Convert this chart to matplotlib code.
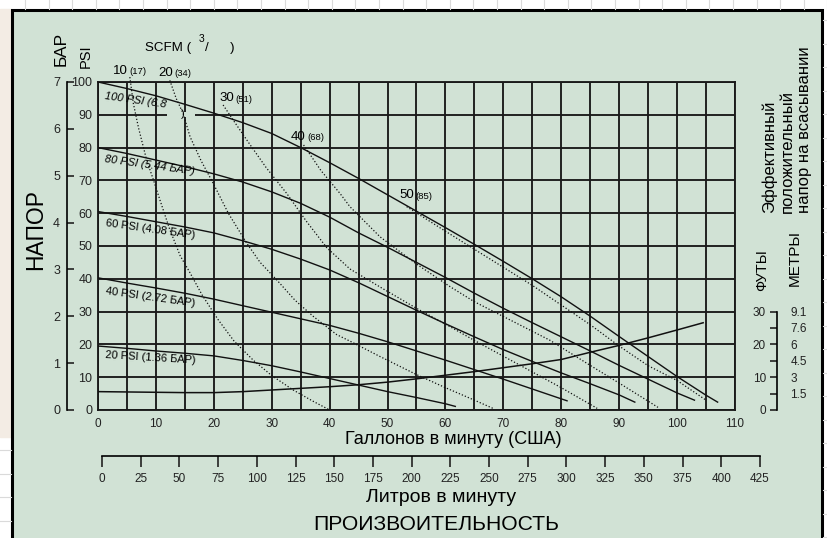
import numpy as np
import matplotlib.pyplot as plt
from matplotlib.patches import Rectangle

plt.rcParams['font.family'] = ['Liberation Sans', 'DejaVu Sans']

W, H = 828, 538

# discharge pressure curves, flow in US gpm vs head in psi
p100_gpm = [0, 5, 10, 15, 20, 25, 30, 35, 40, 45, 50, 55, 60, 65, 70, 75,
            80, 85, 90, 95, 100, 105, 107]
p100_psi = [100, 98, 95.8, 93.2, 90.5, 87.6, 84.3, 80, 75.4, 70.6, 65.6,
            60.6, 55.6, 50.5, 45.3, 40, 34.5, 28.6, 22.4, 16.3, 10.2, 4.5, 2.4]
p80_gpm = [0, 5, 10, 15, 20, 25, 30, 35, 40, 45, 50, 55, 60, 65, 70, 75, 80,
           85, 90, 95, 100, 103]
p80_psi = [80, 78.2, 76.2, 74.2, 72, 69.5, 66.5, 63, 58.8, 54, 49.6, 45,
           40.4, 35.6, 31, 26.6, 22.3, 18, 13.6, 9.4, 5.2, 3]
p60_gpm = [0, 5, 10, 15, 20, 25, 30, 35, 40, 45, 50, 55, 60, 65, 70, 75, 80,
           85, 90, 92.7]
p60_psi = [60.5, 59, 57.4, 55.8, 54, 51.6, 49, 46, 42.7, 38.8, 34.6, 30.4,
           26.3, 22.3, 18.4, 14.8, 11.3, 8, 4.6, 2.4]
p40_gpm = [0, 5, 10, 15, 20, 25, 30, 35, 40, 45, 50, 55, 60, 65, 70, 75, 81]
p40_psi = [40.3, 38.7, 37.2, 35.6, 33.8, 31.8, 29.8, 27.8, 25.8, 23.4, 20.8,
           18, 15.2, 12.3, 9.4, 6.4, 2.8]
p20_gpm = [0, 5, 10, 15, 20, 25, 30, 35, 40, 45, 50, 55, 60, 61.7]
p20_psi = [19.5, 18.8, 18, 17.3, 16.5, 15.1, 13.5, 11.6, 9.6, 7.6, 5.6, 3.8,
           1.9, 1.1]

# air consumption curves (SCFM)
s10_gpm = [5.5, 6.1, 7, 8.4, 9.6, 10.7, 12.4, 14.2, 15.9, 18, 20.8, 23.5,
           26.8, 30, 33.7, 37, 40]
s10_psi = [101.5, 93.5, 86, 76.2, 70, 64, 55, 47, 41.8, 35, 27.4, 21, 15.2,
           10.5, 6.1, 2.8, 0]
s20_gpm = [12.4, 13.5, 14.7, 15.9, 17.8, 19.9, 22.5, 25.7, 28, 30.9, 34,
           37.2, 41.2, 43.5, 48.7, 55, 60, 65, 68.2]
s20_psi = [100.5, 95, 90.4, 83.3, 76, 69.1, 60, 50.8, 45, 39.6, 33.5, 28.5,
           23, 21, 16.3, 10.8, 6.8, 3, 0.5]
s30_gpm = [21.6, 23.5, 25.7, 29, 32.6, 36, 39.5, 43.5, 48.7, 55, 60.8, 65,
           70, 75, 80, 86.2]
s30_psi = [93, 88, 82.3, 74, 66, 57.5, 49.5, 43, 37.5, 31, 25.4, 21.2, 16.4,
           11.6, 6.8, 0.5]
s40_gpm = [35.5, 38.5, 41.8, 43.5, 48.7, 55, 60.8, 65, 70, 78, 85, 90, 95,
           96.7]
s40_psi = [80.8, 73, 66, 62, 52.8, 44.5, 37.6, 33, 28.5, 21.3, 13.6, 8.2,
           2.7, 0.8]
s50_gpm = [53.3, 60, 65, 70, 75, 80, 85, 90, 95, 100, 105]
s50_psi = [62, 54.5, 49, 43.5, 38, 32, 26, 19.5, 13.5, 9, 3]

# NPSH required, feet
npsh_gpm = [0, 5, 10, 15, 20, 25, 30, 35, 40, 45, 50, 55, 60, 65, 70, 75, 80,
            85, 90, 95, 100, 104.5]
npsh_ft = [5.6, 5.5, 5.4, 5.3, 5.3, 5.6, 6.1, 6.6, 7.1, 7.7, 8.5, 9.5, 10.6,
           11.7, 12.9, 14.1, 15.4, 17.6, 19.7, 22, 24.4, 26.6]

gpm_ticks = list(range(0, 111, 10))
psi_ticks = list(range(0, 101, 10))
bar_ticks = list(range(0, 8))
lpm_ticks = list(range(0, 426, 25))
ft_ticks = [0, 10, 20, 30]
ft_minor = [5, 15, 25]
metre_pos = [5, 10, 15, 20, 25, 30]
metre_labels = ['1.5', '3', '4.5', '6', '7.6', '9.1']

ink = '#1a1a1a'
panel = '#d1e2d5'

fig = plt.figure(figsize=(W / 100, H / 100), dpi=100)


def box(x0, y0, x1, y1):
    return [x0 / W, 1 - y1 / H, (x1 - x0) / W, (y1 - y0) / H]


def put(x, y, s, **kw):
    fig.text(x / W, 1 - y / H, s, **kw)


# page behind the panel
bg = fig.add_axes([0, 0, 1, 1])
bg.set_xlim(0, W)
bg.set_ylim(H, 0)
bg.axis('off')
bg.add_patch(Rectangle((0, 0), W, H, color='white'))
bg.add_patch(Rectangle((0, 9), 11, 428, color='#f3ece4'))
for x in np.arange(25, W, 23.6):
    bg.plot([x, x], [0, 9], color='#dadada', lw=0.8)
for y in np.arange(450, H, 23.5):
    bg.plot([0, 11], [y, y], color='#dadada', lw=0.8)
for y in np.arange(20, H, 23.5):
    bg.plot([823, W], [y, y], color='#dadada', lw=0.8)
bg.add_patch(Rectangle((12, 10), 810, 545, facecolor=panel,
                       edgecolor='black', lw=2.2))

# main chart
ax = fig.add_axes(box(98, 82, 735, 410))
ax.patch.set_alpha(0)
ax.set_xlim(0, 110)
ax.set_ylim(0, 100)
ax.set_xticks(gpm_ticks)
ax.set_xticks(range(5, 110, 10), minor=True)
ax.set_yticks(psi_ticks)
ax.grid(which='both', color=ink, lw=1.35)
ax.tick_params(which='both', length=0, labelsize=8.5, colors='#222')
ax.tick_params(axis='x', pad=6)
ax.tick_params(axis='y', pad=4, labelsize=9)
for s in ax.spines.values():
    s.set_color(ink)
    s.set_linewidth(1.35)

# blank strip in the 90 psi grid line where the 100 psi label wraps
ax.add_patch(Rectangle((11.9, 89.2), 4.9, 1.6, facecolor=panel,
                       edgecolor='none', zorder=2))

for g, p in [(p100_gpm, p100_psi), (p80_gpm, p80_psi), (p60_gpm, p60_psi),
             (p40_gpm, p40_psi), (p20_gpm, p20_psi)]:
    ax.plot(g, p, color='#111', lw=1.0, zorder=3)
for g, p in [(s10_gpm, s10_psi), (s20_gpm, s20_psi), (s30_gpm, s30_psi),
             (s40_gpm, s40_psi), (s50_gpm, s50_psi)]:
    ax.plot(g, p, color='#111', lw=0.9, ls=(0, (1, 1.6)), zorder=3,
            clip_on=False)
ax.plot(npsh_gpm, npsh_ft, color='#111', lw=1.1, zorder=3)

# bar scale
bax = fig.add_axes(box(67, 82, 68, 410))
bax.patch.set_alpha(0)
bax.set_ylim(0, 7)
bax.set_yticks(bar_ticks)
bax.xaxis.set_visible(False)
for k in ['top', 'right', 'bottom']:
    bax.spines[k].set_visible(False)
bax.spines['left'].set_linewidth(1.2)
bax.tick_params(direction='in', length=5, width=1.2, pad=5, labelsize=9,
                colors='#222')

# NPSH scale, feet and metres
nax = fig.add_axes(box(777, 410 - 30 * 3.28, 778, 410))
nax.patch.set_alpha(0)
nax.set_ylim(0, 30)
nax.set_yticks(ft_ticks)
nax.set_yticks(ft_minor, minor=True)
nax.xaxis.set_visible(False)
for k in ['top', 'right', 'bottom']:
    nax.spines[k].set_visible(False)
nax.spines['left'].set_linewidth(1.2)
nax.tick_params(which='both', direction='out', length=5, width=1.2, pad=3,
                labelsize=8.5, colors='#222')
mx = nax.twinx()
mx.set_ylim(0, 30)
mx.set_yticks(metre_pos)
mx.set_yticklabels(metre_labels)
mx.tick_params(length=0, pad=9, labelsize=8.5, colors='#222')
for s in mx.spines.values():
    s.set_visible(False)

# litres per minute scale
lax = fig.add_axes(box(102, 455, 760, 456))
lax.patch.set_alpha(0)
lax.set_xlim(0, 425)
lax.set_xticks(lpm_ticks)
lax.yaxis.set_visible(False)
for k in ['top', 'right', 'left']:
    lax.spines[k].set_visible(False)
lax.spines['bottom'].set_linewidth(1.2)
lax.tick_params(direction='out', length=8, width=1.2, pad=4, labelsize=8.5,
                colors='#222')

# axis titles
put(453, 440, 'Галлонов в минуту (США)', fontsize=13, ha='center', va='center')
put(441, 497, 'Литров в минуту', fontsize=14, ha='center', va='center')
put(436, 524, 'ПРОИЗВОИТЕЛЬНОСТЬ', fontsize=15.2, ha='center', va='center')
put(36, 229, 'НАПОР', fontsize=16.5, rotation=90, ha='center', va='center')
put(61, 49, 'БАР', fontsize=12.5, rotation=90, ha='center', va='center')
put(86, 56, 'PSI', fontsize=10.5, rotation=90, ha='center', va='center')

put(145, 48, 'SCFM (', fontsize=9.6, ha='left', va='center')
put(199, 39, '3', fontsize=7.5, ha='left', va='center')
put(205, 48, '/', fontsize=9.6, ha='left', va='center')
put(230, 48, ')', fontsize=9.6, ha='left', va='center')

put(762, 270, 'ФУТЫ', fontsize=10.5, rotation=90, ha='center', va='center')
put(795, 258, 'МЕТРЫ', fontsize=11, rotation=90, ha='center', va='center')
put(787, 213, 'Эффективный\nположительный\nнапор на всасывании', fontsize=12,
    rotation=90, ha='center', va='bottom', ma='left', linespacing=1.2)

# air consumption labels
for x, y, big, small in [(113, 71, '10', '(17)'), (158, 73, '20', '(34)'),
                         (219, 98, '30', '(51)'), (291, 137, '40', '(68)'),
                         (399, 195, '50', '(85)')]:
    put(x, y, big, fontsize=9.5, ha='left', va='center')
    put(x + 16, y + 1, small, fontsize=6.8, ha='left', va='center')

# pressure labels
for x, y, s, rot, st in [(136, 100, '100 PSI (6.8', -8, 'italic'),
                         (150, 165, '80 PSI (5.44 БАР)', -8, 'italic'),
                         (150, 229, '60 PSI (4.08 БАР)', -8, 'normal'),
                         (150, 297, '40 PSI (2.72 БАР)', -8, 'normal'),
                         (150, 358, '20 PSI (1.36 БАР)', -3.5, 'normal')]:
    put(x, y, s, fontsize=8, rotation=rot, style=st, ha='center',
        va='center', rotation_mode='anchor')
put(183, 114, ')', fontsize=8, ha='center', va='center')

fig.savefig('out.png', dpi=100)
